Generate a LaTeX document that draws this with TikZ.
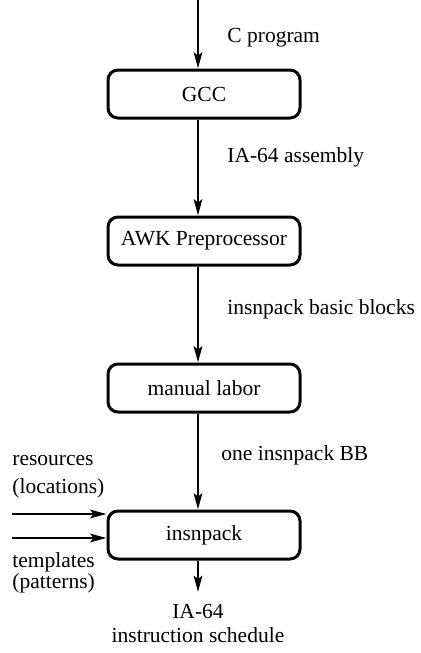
\documentclass[tikz,border=0pt]{standalone}
\usepackage{fontspec}
\setmainfont{Liberation Serif}
\usetikzlibrary{positioning,arrows.meta}

\begin{document}
\begin{tikzpicture}[
    stage/.style={rectangle, rounded corners=5pt, draw, line width=1.5pt,
                  minimum height=24pt, minimum width=96pt, inner sep=2pt},
    arr/.style={-{Stealth[length=8pt,width=4.2pt,inset=1.5pt]}, line width=1.4pt},
    flow/.style={right=14pt, inner sep=0pt},
    note/.style={anchor=base west, inner sep=0pt},
    node distance=48pt,
    font=\fontsize{10.75}{12}\selectfont,
]
\useasboundingbox (0,0) rectangle (210pt,-326.5pt);

\node[stage] (gcc) at (102pt,-47pt) {GCC};
\node[stage, below=of gcc] (awk) {AWK Preprocessor};
\node[stage, below=of awk] (manual) {manual labor};
\node[stage, below=of manual] (pack) {insnpack};

\coordinate (src) at (99pt,0pt);
\coordinate (out) at (99pt,-296pt);
\coordinate (res) at (6pt,-257pt);
\coordinate (tpl) at (6pt,-269pt);

\draw[arr] (src) -- (src |- gcc.north) node[flow, pos=0.55] {C program};
\draw[arr] (gcc.south -| src) -- (awk.north -| src) node[flow, pos=0.39] {IA-64 assembly};
\draw[arr] (awk.south -| src) -- (manual.north -| src) node[flow, pos=0.45] {insnpack basic blocks};
\draw[arr] (manual.south -| src) -- (pack.north -| src) node[flow, pos=0.44, xshift=-3pt] {one insnpack BB};
\draw[arr] (pack.south -| src) -- (out);
\draw[arr] (res) -- (res -| pack.west);
\draw[arr] (tpl) -- (tpl -| pack.west);

\node[below=6pt of out, inner sep=0pt, align=center] (sched) {IA-64\\instruction schedule};
\node[note] (resl) at (6pt,-232.5pt) {resources};
\node[note] (locl) at (6pt,-246.5pt) {(locations)};
\node[note] (tpll) at (6pt,-283.5pt) {templates};
\node[note] (patl) at (6pt,-294pt) {(patterns)};
\end{tikzpicture}
\end{document}
